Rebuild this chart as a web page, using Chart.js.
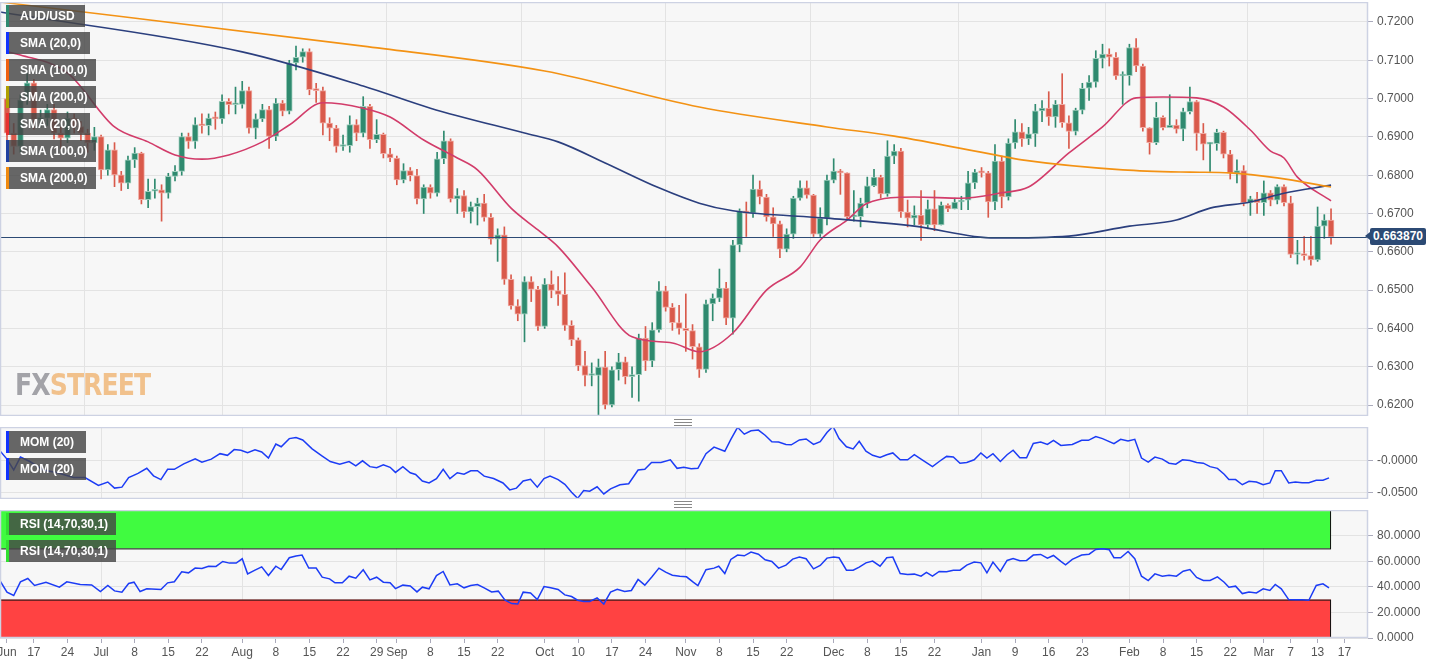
<!DOCTYPE html>
<html><head><meta charset="utf-8">
<script src="https://cdn.jsdelivr.net/npm/chart.js@4.4.1/dist/chart.umd.min.js"></script>
<style>
html,body{margin:0;padding:0;background:#fff;width:1439px;height:665px;overflow:hidden;font-family:"Liberation Sans",Arial,sans-serif}
.cv{position:absolute;left:0;width:1439px}
.lg{position:absolute;left:6px;height:22px;line-height:22px;background:rgba(70,70,70,0.82);color:#fff;font-weight:bold;font-size:12px;padding-left:11px;box-sizing:border-box;border-left:3px solid #000}
.hd{position:absolute;left:674px;width:18px;height:5px;border-top:1px solid #888;border-bottom:1px solid #888}
.hd:after{content:"";position:absolute;left:0;right:0;top:2px;border-top:1px solid #888}
</style></head><body>
<div class="cv" style="top:2px;height:414px"><canvas id="c1"></canvas></div>
<div class="cv" style="top:427px;height:72px"><canvas id="c2"></canvas></div>
<div class="cv" style="top:510px;height:155px"><canvas id="c3"></canvas></div>
<div class="hd" style="top:419px"></div>
<div class="hd" style="top:501px"></div>
<div id="wm" style="position:absolute;left:15px;top:366px;font:bold 31px 'Liberation Sans Narrow','DejaVu Sans Condensed',sans-serif;letter-spacing:-1px;transform:scaleX(0.9);transform-origin:left"><span style="color:#a3a3a8">FX</span><span style="color:#f1c18c">STREET</span></div>
<div id="lp" style="position:absolute;left:1370px;top:228px;width:56px;height:17px;line-height:17px;background:#2c4a74;color:#fff;font-weight:bold;font-size:12px;text-align:center;border-radius:2px">0.663870</div>
<div style="position:absolute;left:1365px;top:232px;width:0;height:0;border-top:4px solid transparent;border-bottom:4px solid transparent;border-right:5px solid #2c4a74"></div>
<div id="legends"></div>
<script>
// ---------- DATA ----------
const firstOpen = 0.7000;
const closes = [.6910,.6875,.6997,.7041,.6945,.6948,.6971,.6910,.6897,.6949,.6927,.6910,.6884,.6901,.6814,.6866,.6801,.6779,.6840,.6858,
.6736,.6758,.6762,.6753,.6797,.6810,.6901,.6888,.6932,.6929,.6949,.6947,.6993,.6984,.6985,.7021,.6923,.6947,.6971,.6901,
.6988,.6967,.7093,.7108,.7123,.7023,.7021,.6936,.6923,.6875,.6877,.6932,.6910,.6980,.6893,.6907,.6856,.6845,.6788,.6812,
.6799,.6738,.6769,.6753,.6843,.6890,.6738,.6747,.6704,.6718,.6727,.6690,.6633,.6644,.6528,.6459,.6437,.6522,.6502,.6405,
.6516,.6499,.6489,.6408,.6370,.6303,.6277,.6277,.6299,.6200,.6292,.6313,.6274,.6279,.6375,.6315,.6396,.6498,.6455,.6415,
.6400,.6394,.6352,.6293,.6464,.6479,.6505,.6427,.6618,.6707,.6701,.6764,.6743,.6691,.6673,.6607,.6646,.6740,.6767,.6748,
.6646,.6688,.6787,.6811,.6806,.6691,.6692,.6727,.6772,.6795,.6751,.6850,.6863,.6704,.6688,.6696,.6670,.6712,.6670,.6722,
.6712,.6730,.6735,.6780,.6808,.6806,.6730,.6837,.6743,.6884,.6913,.6895,.6908,.6968,.6975,.6952,.6985,.6937,.6914,.6970,
.7027,.7043,.7105,.7116,.7108,.7059,.7060,.7133,.7085,.6924,.6885,.6951,.6924,.6931,.6920,.6966,.6992,.6909,.6881,.6882,
.6912,.6855,.6805,.6812,.6728,.6738,.6728,.6754,.6735,.6770,.6728,.6593,.6594,.6590,.6579,.6667,.6683,.6639];
const highs = [.7010,.6935,.7010,.7065,.7050,.6970,.6985,.6985,.6925,.6965,.6960,.6940,.6920,.6925,.6905,.6880,.6885,.6810,.6850,.6872,
.6860,.6790,.6790,.6775,.6805,.6825,.6910,.6910,.6950,.6960,.6960,.6965,.7010,.7000,.7030,.7045,.7030,.6960,.6985,.6980,
.7000,.6995,.7100,.7137,.7130,.7130,.7040,.7030,.6950,.6930,.6905,.6955,.6945,.7005,.6985,.6945,.6910,.6870,.6850,.6830,
.6820,.6815,.6775,.6775,.6860,.6915,.6895,.6765,.6760,.6730,.6740,.6750,.6700,.6660,.6665,.6540,.6475,.6535,.6535,.6510,
.6530,.6550,.6535,.6545,.6420,.6375,.6340,.6310,.6320,.6340,.6300,.6335,.6325,.6300,.6385,.6405,.6415,.6522,.6510,.6465,
.6460,.6490,.6410,.6360,.6474,.6490,.6555,.6520,.6630,.6712,.6730,.6800,.6785,.6750,.6715,.6680,.6660,.6745,.6785,.6785,
.6750,.6715,.6800,.6843,.6815,.6805,.6760,.6740,.6795,.6815,.6800,.6890,.6880,.6870,.6735,.6720,.6760,.6735,.6760,.6730,
.6725,.6740,.6745,.6810,.6815,.6820,.6810,.6880,.6850,.6895,.6945,.6935,.6925,.6985,.6995,.7018,.6995,.7065,.6955,.6975,
.7040,.7060,.7125,.7142,.7130,.7120,.7070,.7142,.7157,.7090,.6920,.6990,.6955,.7010,.6945,.6975,.7030,.6995,.6935,.6885,
.6920,.6915,.6865,.6840,.6825,.6745,.6755,.6785,.6760,.6775,.6775,.6745,.6630,.6640,.6640,.6717,.6697,.6712];
const lows = [.6870,.6855,.6860,.6985,.6920,.6925,.6930,.6895,.6870,.6885,.6910,.6890,.6860,.6865,.6790,.6800,.6770,.6760,.6765,.6820,
.6725,.6715,.6740,.6680,.6740,.6785,.6800,.6870,.6870,.6910,.6905,.6920,.6935,.6960,.6960,.6975,.6910,.6895,.6940,.6870,
.6890,.6955,.6960,.7075,.7095,.7010,.6990,.6905,.6890,.6860,.6865,.6860,.6890,.6900,.6870,.6885,.6845,.6835,.6775,.6780,
.6785,.6725,.6700,.6740,.6745,.6830,.6730,.6700,.6690,.6675,.6670,.6680,.6620,.6575,.6515,.6450,.6420,.6365,.6470,.6395,
.6400,.6480,.6460,.6395,.6355,.6290,.6250,.6250,.6170,.6190,.6195,.6265,.6255,.6220,.6210,.6290,.6300,.6390,.6445,.6395,
.6385,.6340,.6320,.6272,.6285,.6420,.6470,.6410,.6385,.6600,.6640,.6690,.6725,.6680,.6640,.6585,.6600,.6635,.6735,.6740,
.6640,.6640,.6670,.6780,.6750,.6685,.6680,.6665,.6715,.6770,.6740,.6745,.6830,.6690,.6665,.6670,.6630,.6660,.6655,.6670,
.6705,.6720,.6710,.6710,.6765,.6795,.6690,.6710,.6715,.6735,.6870,.6875,.6880,.6875,.6940,.6930,.6925,.6925,.6870,.6905,
.6960,.6995,.7030,.7080,.7085,.7050,.6985,.7035,.7070,.6915,.6855,.6880,.6918,.6925,.6910,.6890,.6960,.6865,.6840,.6810,
.6865,.6845,.6790,.6780,.6720,.6695,.6700,.6695,.6720,.6725,.6720,.6585,.6568,.6578,.6565,.6575,.6635,.6620];
const lastPrice = 0.6639;

const sma20Days = [0,2,9,16,21,25,29,33,38,42,47,53,57,62,67,70,75,79,82,87,93,99,103,108,113,118,121,125,128,135,142,148,152,158,163,168,172,177,181,185,188,190,192,197];
const sma20Vals = [.7122,.7114,.7067,.6926,.6887,.6853,.6842,.6853,.6887,.6931,.6989,.6975,.6952,.6892,.6845,.6814,.6714,.6657,.6613,.6508,.6378,.6362,.6339,.6388,.6500,.6560,.6631,.6683,.6727,.6743,.6740,.6754,.6769,.6858,.6926,.7002,.7004,.7002,.6978,.6918,.6863,.6845,.6795,.6733];
const sma100Days = [-1,35,53,63,77,82,89,97,103,108,122,135,147,158,167,174,179,185,190,197];
const sma100Vals = [.7226,.7122,.7033,.6975,.6910,.6887,.6832,.6767,.6727,.6707,.6688,.6667,.6636,.6641,.6667,.6683,.6714,.6730,.6753,.6774];
const sma200Days = [-1,53,80,103,122,132,147,151,166,176,182,189,197];
const sma200Vals = [.7252,.7137,.7072,.6978,.6926,.6902,.6853,.6840,.6814,.6808,.6806,.6793,.6769];

const momDays = [-1,0,1,2,3.4,5.4,7.5,9.9,11.6,13.6,15,16,17.1,18.1,19.5,20.8,21.8,22.9,23.9,24.9,26.3,28,29,30.4,31.7,32.8,33.8,34.8,35.8,36.9,37.9,38.9,40,40.8,42,43,44,45.4,46.8,48.1,49.5,50.9,51.9,52.9,54,55,56,57,57.8,58.9,60,60.8,61.8,62.8,63.9,64.9,65.9,67,68,69,70,71,72.4,73.8,74.8,75.8,76.8,77.9,78.9,79.9,80.8,82,83,84,84.9,85.8,86.7,87.8,88.8,89.8,91.2,92.5,93.9,94.9,95.9,97.3,98.7,99.7,100.7,101.8,102.8,104,105.2,
106.8,107.7,108.7,109.7,110.7,111.8,112.8,113.8,114.8,115.9,116.7,117.9,118.9,120,121,122,122.9,123.8,124.9,125.9,126.8,127.8,128.8,129.9,130.9,131.8,132.9,134,135,136,137.7,138.7,139.8,140.8,141.8,142.8,143.9,144.9,145.8,146.7,147.8,148.8,149.7,150.7,151.7,152.7,153.8,154.8,155.7,156.8,158.5,159.9,160.9,162,163,164.7,165.7,166.8,167.8,168.8,169.8,170.8,171.9,172.9,173.9,174.9,176,177,178,179,180.1,181.1,181.8,182.8,183.8,184.8,185.9,186.9,187.9,188.7,189.6,190.7,191.7,192.7,193.7,194.8,195.8,196.7];
const momVals = [.0142,.0021,-.0147,.0053,-.0016,-.0147,-.0189,-.0263,-.0263,-.0384,-.0332,-.0426,-.0411,-.0263,-.0200,-.0121,-.0237,-.0295,-.0137,-.0137,-.0053,.0026,-.0026,.0021,.0105,.0079,.0168,.0158,.0121,.0163,.0132,.0037,.0253,.0211,.0337,.0353,.0316,.0179,.0074,-.0016,-.0058,-.0016,-.0084,-.0005,-.0095,-.0111,-.0068,-.0105,-.0184,-.0095,-.0189,-.0216,-.0316,-.0347,-.0279,-.0137,-.0279,-.0189,-.0211,-.0158,-.0158,-.0242,-.0279,-.0347,-.0453,-.0426,-.0316,-.0289,-.0411,-.0279,-.0242,-.0295,-.0368,-.0489,-.0584,-.0463,-.0474,-.0405,-.0516,-.0437,-.0374,-.0358,-.0147,-.0137,-.0032,-.0032,.0011,-.0121,-.0105,-.0126,-.0121,.0105,.0205,
.0142,.0326,.0511,.0405,.0458,.0468,.0389,.0289,.0284,.0247,.0242,.0316,.0332,.0247,.0289,.0432,.0526,.0337,.0211,.0179,.0295,.0142,.0079,.0047,.0089,.0116,.0011,.0011,.0089,.0021,-.0095,-.0016,.0063,.0053,-.0042,-.0032,.0011,.0116,.0037,.0105,-.0016,.0089,.0158,.0042,.0042,.0263,.0284,.0247,.0311,.0232,.0247,.0311,.0311,.0368,.0337,.0258,.0326,.0300,.0326,.0037,-.0026,.0053,.0021,-.0042,-.0058,.0011,.0000,-.0032,-.0042,-.0095,-.0121,-.0211,-.0295,-.0295,-.0374,-.0321,-.0332,-.0374,-.0347,-.0158,-.0158,-.0347,-.0332,-.0342,-.0342,-.0305,-.0305,-.0268];

const rsiDays = [-1,0,1,2,3.1,4.1,5.8,7.8,8.9,10.9,12.6,13.9,15,16,17.1,18.1,18.9,19.8,20.8,22.9,23.9,24.9,26,27,28,29,30,31.1,32.1,33.1,34.1,35,35.8,36.9,37.9,38.9,40,40.8,42,43,43.9,44.9,46,46.9,48,48.8,49.9,50.9,51.9,53,54,55,56,57,57.8,58.9,60,61,61.8,62.8,63.9,64.9,65.9,67,68,69,70,71,72.1,73.1,74.1,75.1,76,76.8,77.9,78.9,79.9,80.9,82,83,84,84.9,85.8,86.7,87.8,88.8,89.8,90.8,91.9,92.9,93.9,94.9,96,97,98,99,100.1,101.1,102.1,102.8,104,105.2,105.9,
106.8,107.7,108.7,109.7,110.7,111.8,112.8,113.8,114.8,115.9,116.9,117.9,118.9,120,121,122,123,123.8,124.9,125.9,126.8,127.8,128.8,129.9,130.9,131.8,132.9,134,135,136,136.8,137.7,138.7,139.8,140.8,141.8,142.8,143.9,144.9,145.8,146.7,147.8,148.8,149.7,150.7,151.7,152.7,153.8,154.8,155.7,156.8,157.5,158.5,159.9,161,162,163,164,164.7,165.7,166.8,167.8,168.8,169.8,170.8,171.9,172.9,174,175,176,177,178,179,180.1,181.1,181.8,182.8,183.8,184.8,185.9,186.9,187.9,188.7,189.6,190.7,191.7,192.7,193.7,194.8,195.8,196.7];
const rsiVals = [44.4,35.8,33.2,43.9,46.5,41.0,43.6,39.7,43.9,41.8,41.5,36.3,41.0,36.8,35.8,42.6,43.6,36.3,38.4,37.9,43.1,43.9,51.7,50.9,54.6,54.3,56.1,55.9,59.8,58.5,58.5,61.9,50.1,53.0,55.6,48.8,56.1,53.5,62.7,64.0,64.8,54.6,54.6,47.5,46.2,43.1,43.1,48.3,46.7,53.3,45.4,47.5,43.6,43.1,38.6,41.3,40.7,36.0,39.7,38.4,48.8,52.0,41.5,42.3,39.2,41.0,41.8,39.2,36.0,36.6,29.5,26.9,26.6,35.8,35.2,30.0,40.2,39.2,37.9,33.7,32.4,29.5,28.5,28.5,31.3,26.6,35.8,38.1,36.3,37.1,45.7,41.3,48.0,54.6,51.4,49.1,48.3,47.8,43.6,41.0,53.3,54.6,56.1,
50.4,61.4,64.8,64.2,67.1,65.5,61.1,59.8,54.6,56.9,61.6,63.2,61.9,54.0,56.7,62.4,63.2,62.7,53.0,53.0,55.4,58.7,60.1,56.1,62.7,63.2,50.4,49.6,49.9,48.3,51.2,48.3,52.0,51.7,53.0,53.0,56.9,59.3,58.7,50.9,59.3,52.0,60.6,62.1,60.3,60.6,64.8,65.3,62.4,64.5,59.8,57.2,61.4,64.8,65.5,69.2,69.7,68.9,62.7,62.7,67.6,61.9,48.3,44.9,50.1,48.3,49.1,48.3,52.2,53.5,47.3,44.9,44.9,47.8,43.6,39.7,40.5,34.7,36.0,35.2,38.4,37.1,41.8,38.4,30.0,29.8,29.8,29.5,41.0,42.3,39.2];

const tickDays   = [0,4,9,14,19,24,29,35,40,45,50,55,58,63,68,73,80,85,90,95,101,106,111,116,123,128,133,138,145,150,155,160,167,172,177,182,187,191,195,199];
const tickLabels = ['Jun','17','24','Jul','8','15','22','Aug','8','15','22','29','Sep','8','15','22','Oct','10','17','24','Nov','8','15','22','Dec','8','15','22','Jan','9','16','23','Feb','8','15','22','Mar','7','13','17'];
const monthDays  = [14,35,58,80,101,123,145,167,187];

// ---------- BUILD ----------
const X_MIN=-1.04, X_MAX=202.5, AXW=71;
const RED='#d95a4b', GREEN='#2f8a6f';
const opens = closes.map((c,i)=> i===0 ? firstOpen : closes[i-1]);
const bodies = closes.map((c,i)=>({x:i,y:[opens[i],c]}));
const wicks = closes.map((c,i)=>({x:i,y:[Math.min(lows[i],opens[i],c),Math.max(highs[i],opens[i],c)]}));
const cols = closes.map((c,i)=> c>=opens[i]?GREEN:RED);
const bcols = closes.map((c,i)=> c>=opens[i]?'#9fcdbd':'#f0aaa2');
const pts=(d,v)=>d.map((x,i)=>({x:x,y:v[i]}));

const bgPlugin={id:'bg',beforeDraw(ch){const a=ch.chartArea,c=ch.ctx;c.save();c.fillStyle='#f7f7f7';c.fillRect(a.left,a.top,a.right-a.left,a.bottom-a.top);c.restore();},
 afterDraw(ch){const a=ch.chartArea,c=ch.ctx;c.save();c.strokeStyle='#cdd2e3';c.lineWidth=1.5;c.strokeRect(a.left+0.5,a.top+0.5,a.right-a.left-1,a.bottom-a.top-1);c.restore();}};

function xScale(showTicks){
 return {type:'linear',min:X_MIN,max:X_MAX,offset:false,
  afterBuildTicks:s=>{s.ticks=tickDays.map(v=>({value:v}));},
  afterFit:s=>{s.height=showTicks?27:0;s.paddingLeft=0;s.paddingRight=0;},
  ticks:{display:showTicks,autoSkip:false,maxRotation:0,padding:2,color:'#555',font:{family:'Liberation Sans',size:12},callback:v=>tickLabels[tickDays.indexOf(v)]},
  grid:{drawTicks:showTicks,tickLength:5,tickColor:'#aab',color:c=>monthDays.includes(c.tick&&c.tick.value)?'#e3e3e3':'rgba(0,0,0,0)'},
  border:{display:false}};
}
function yScale(o){
 return Object.assign({position:'right',afterFit:s=>{s.width=AXW;s.paddingTop=0;s.paddingBottom=0;},border:{display:false},
  grid:{color:'#e3e3e3',tickLength:5,tickColor:'#aab'}},o);
}
const base={responsive:true,maintainAspectRatio:false,animation:false,events:[],layout:{padding:0},
 plugins:{legend:{display:false},tooltip:{enabled:false}}};
const tickFont={family:'Liberation Sans',size:12};

const priceLinePlugin={id:'pl',afterDatasetsDraw(ch){const y=ch.scales.y.getPixelForValue(lastPrice),a=ch.chartArea,c=ch.ctx;
 c.save();c.strokeStyle='#2c4a74';c.lineWidth=1;c.beginPath();c.moveTo(a.left,Math.round(y)+0.5);c.lineTo(a.right,Math.round(y)+0.5);c.stroke();c.restore();}};

new Chart(document.getElementById('c1'),{type:'bar',
 data:{datasets:[
  {type:'line',data:pts(sma200Days,sma200Vals),borderColor:'#f39214',borderWidth:1.6,pointRadius:0,tension:0.4,cubicInterpolationMode:'monotone',order:1},
  {type:'line',data:pts(sma100Days,sma100Vals),borderColor:'#2b3f7e',borderWidth:1.6,pointRadius:0,tension:0.4,cubicInterpolationMode:'monotone',order:1},
  {type:'line',data:pts(sma20Days,sma20Vals),borderColor:'#d23c6a',borderWidth:1.6,pointRadius:0,tension:0.4,cubicInterpolationMode:'monotone',order:1},
  {data:bodies,backgroundColor:cols,borderColor:bcols,borderWidth:1,borderSkipped:false,barThickness:6,minBarLength:2,grouped:false,order:2},
  {data:wicks,backgroundColor:cols,borderWidth:0,barThickness:1,grouped:false,order:3}
 ]},
 options:Object.assign({},base,{scales:{x:xScale(false),
  y:yScale({min:0.61713,max:0.72522,ticks:{includeBounds:false,stepSize:0.01,color:'#555',font:tickFont,padding:4,callback:v=>v.toFixed(4)}})}}),
 plugins:[bgPlugin,priceLinePlugin]});

new Chart(document.getElementById('c2'),{type:'line',
 data:{datasets:[{data:pts(momDays,momVals),borderColor:'#1c3cf5',borderWidth:1.5,pointRadius:0}]},
 options:Object.assign({},base,{scales:{x:xScale(false),
  y:yScale({min:-0.0594,max:0.0516,afterBuildTicks:s=>{s.ticks=[{value:0},{value:-0.05}];},
   ticks:{color:'#555',font:tickFont,padding:4,callback:v=>'-'+Math.abs(v).toFixed(4)}})}}),
 plugins:[bgPlugin]});

const bandPlugin={id:'band',beforeDatasetsDraw(ch){const xs=ch.scales.x,ys=ch.scales.y,c=ch.ctx;
 const l=ch.chartArea.left, r=xs.getPixelForValue(197);
 c.save();
 const yg1=ys.getPixelForValue(100),yg2=ys.getPixelForValue(70),yr1=ys.getPixelForValue(30),yr2=ys.getPixelForValue(0);
 c.fillStyle='#40fb40';c.fillRect(l,yg1,r-l,yg2-yg1);
 c.fillStyle='#ff4242';c.fillRect(l,yr1,r-l,yr2-yr1);
 c.strokeStyle='#111';c.lineWidth=1;
 c.strokeRect(l+0.5,yg1+0.5,r-l-1,yg2-yg1);c.strokeRect(l+0.5,yr1+0.5,r-l-1,yr2-yr1-1);
 c.restore();}};

new Chart(document.getElementById('c3'),{type:'line',
 data:{datasets:[{data:pts(rsiDays,rsiVals),borderColor:'#1c3cf5',borderWidth:1.5,pointRadius:0}]},
 options:Object.assign({},base,{scales:{x:xScale(true),
  y:yScale({min:0,max:100,afterBuildTicks:s=>{s.ticks=[0,20,40,60,80].map(v=>({value:v}));},
   ticks:{color:'#555',font:tickFont,padding:4,callback:v=>v.toFixed(4)}})}}),
 plugins:[bgPlugin,bandPlugin]});

// legends
const L=[['AUD/USD',5,79,'#2f8a6f'],['SMA (20,0)',32,84,'#1133ff'],['SMA (100,0)',59,90,'#f06010'],['SMA (200,0)',86,90,'#b0a000'],
 ['SMA (20,0)',113,84,'#e83030'],['SMA (100,0)',140,90,'#2040a0'],['SMA (200,0)',167,90,'#f08a10'],
 ['MOM (20)',431,80,'#1133ff'],['MOM (20)',458,80,'#1133ff'],['RSI (14,70,30,1)',513,110,'#30e030'],['RSI (14,70,30,1)',540,110,'#30e030']];
const lg=document.getElementById('legends');
L.forEach(([t,y,w,c])=>{const d=document.createElement('div');d.className='lg';d.textContent=t;d.style.top=y+'px';d.style.width=w+'px';d.style.borderLeftColor=c;lg.appendChild(d);});
</script></body></html>
